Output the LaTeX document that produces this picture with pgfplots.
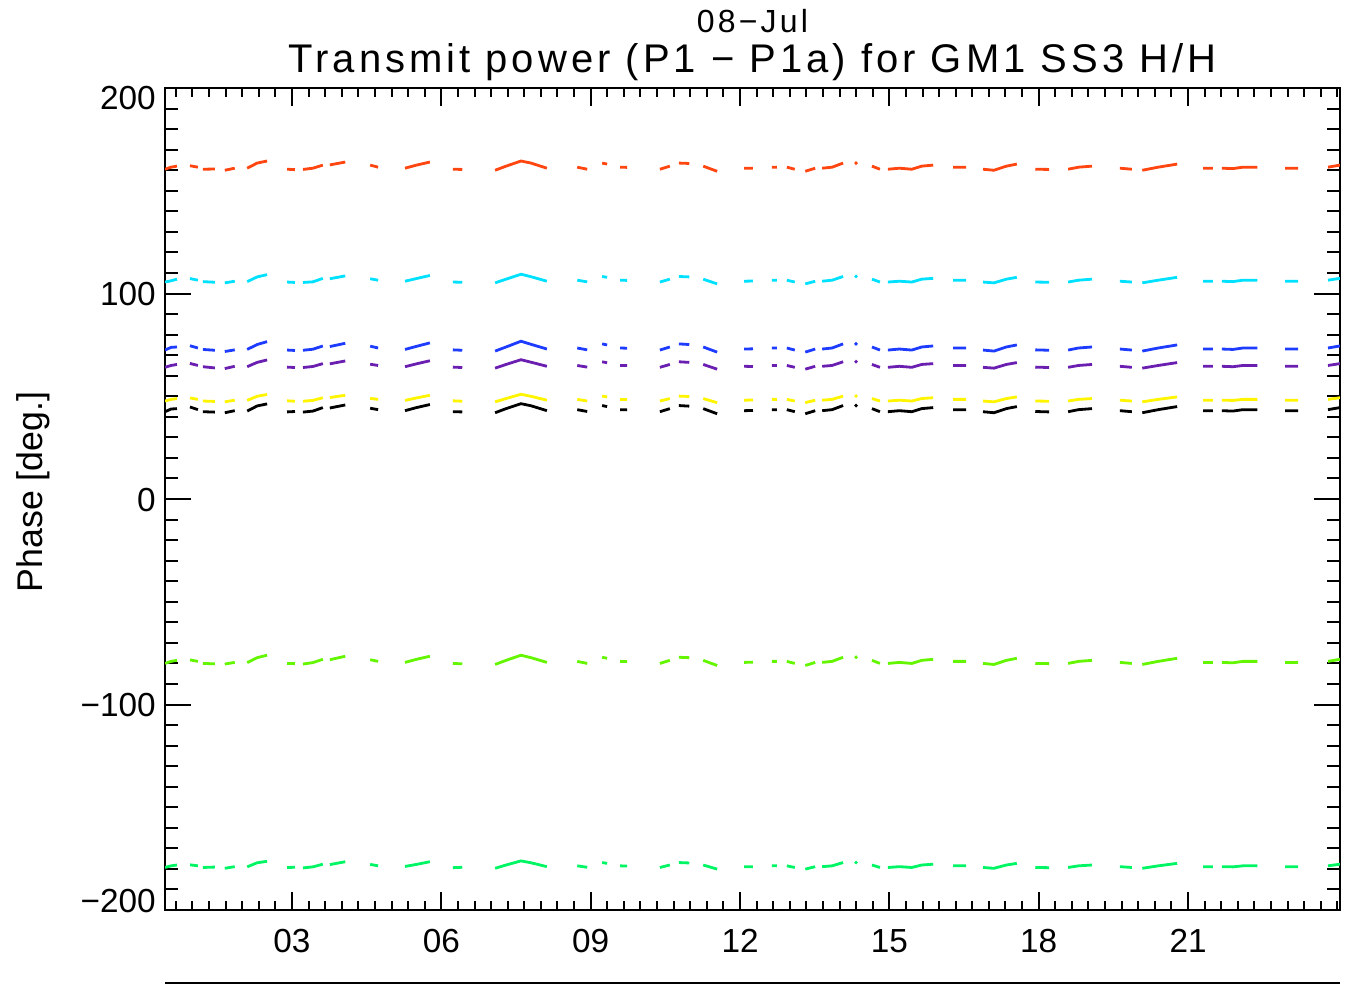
\documentclass[border=0pt]{standalone}
\usepackage{fontspec}
\setmainfont{Liberation Sans}
\newfontfamily\titlefont{Liberation Sans}[LetterSpace=10]
\usepackage{pgfplots}
\usepackage{pgfplotstable}
\pgfplotsset{compat=1.18}

\definecolor{cOr}{RGB}{255,69,16}
\definecolor{cCy}{RGB}{0,225,255}
\definecolor{cBl}{RGB}{30,60,255}
\definecolor{cPu}{RGB}{106,31,176}
\definecolor{cYe}{RGB}{255,245,0}
\definecolor{cG1}{RGB}{100,245,0}
\definecolor{cG2}{RGB}{0,245,100}

% hour, then one column per channel
\pgfplotstableread{
t o c b p y k g s
0.45 160.5 105.6 72.5 64.1 47.7 42.5 -80 -179.3
0.57 161.5 106.2 73.8 65 48.5 43.8 -79 -178.5
0.69 162 107 74 65.5 48.9 44 -78.5 -178.1
0.80 nan nan nan nan nan nan nan nan
0.95 162.2 107.3 74.6 66 49.2 44.8 -78.3 -178
1.11 161.5 106.5 73.5 65 48.5 43.5 -79 -178.5
1.15 nan nan nan nan nan nan nan nan
1.21 160.5 105.8 72.8 64.4 47.7 42.5 -80 -179.3
1.45 160.6 105.5 72.4 63.8 47.5 42.3 -80.2 -179.1
1.55 nan nan nan nan nan nan nan nan
1.65 160 105.2 71.8 63.5 47.3 42 -80.3 -179.7
1.85 161 106 72.6 64.6 48.1 43 -79.5 -178.9
1.95 nan nan nan nan nan nan nan nan
2.10 161 105.8 72.8 64.4 48 42.8 -79.6 -179
2.30 163.5 108.1 75.2 66.5 50 45.3 -77.2 -177
2.50 164.5 109.2 76.6 67.7 50.9 46.3 -76 -176.3
2.70 nan nan nan nan nan nan nan nan
2.90 160.5 105.6 72.5 64.2 47.8 42.4 -80 -179.3
3.06 160.3 105.4 72.3 64 47.6 42.6 -80.1 -179.2
3.15 nan nan nan nan nan nan nan nan
3.22 160.4 105.4 72.4 64 47.6 42.3 -80.3 -179.5
3.42 161 105.7 72.9 64.5 48 42.8 -79.6 -179
3.62 162.5 107.4 74.5 65.9 49.3 44.5 -78 -177.7
3.70 nan nan nan nan nan nan nan nan
3.76 162.6 107.2 74.2 65.8 49.4 44.3 -78.2 -177.9
4.07 164 108.6 75.8 67.2 50.5 45.8 -76.5 -176.5
4.30 nan nan nan nan nan nan nan nan
4.57 162.5 107.2 74.4 65.6 49 44.2 -78.2 -177.8
4.73 161.5 106.5 73.5 65 48.5 43.5 -79 -178.5
5.00 nan nan nan nan nan nan nan nan
5.27 161 106 72.8 64.4 48 43 -79.5 -178.8
5.50 162.5 107.3 74.3 65.8 49.2 44.5 -78 -177.8
5.77 164 108.8 76 67.3 50.5 46 -76.5 -176.5
6.00 nan nan nan nan nan nan nan nan
6.23 160.5 105.6 72.6 64.2 47.8 42.5 -80 -179.4
6.42 160.4 105.5 72.4 64 47.6 42.4 -80.2 -179.2
6.80 nan nan nan nan nan nan nan nan
7.08 160 105.2 72 63.7 47.3 42 -80.5 -179.7
7.30 162 107 74 65.5 48.9 44 -78.5 -178.1
7.60 164.5 109.4 76.8 67.8 51 46.4 -76 -176.1
7.80 163.5 108.2 75.3 66.6 50 45.4 -77.2 -177
8.12 161 106 73 64.6 48.1 43 -79.5 -178.9
8.40 nan nan nan nan nan nan nan nan
8.73 161.5 106.5 73.5 65 48.5 43.5 -79 -178.5
8.93 160.5 105.7 72.6 64.2 47.7 42.6 -80 -179.2
9.10 nan nan nan nan nan nan nan nan
9.23 163.5 108.3 75.5 66.8 50.1 45.5 -77 -176.9
9.33 163 107.9 75 66.3 49.7 45 -77.5 -177.3
9.45 nan nan nan nan nan nan nan nan
9.59 161.5 106.5 73.5 65 48.5 43.5 -79 -178.5
9.73 161.4 106.4 73.4 65 48.4 43.4 -79.1 -178.6
10.00 nan nan nan nan nan nan nan nan
10.39 160.5 105.6 72.5 64.1 47.7 42.5 -80 -179.3
10.59 162 107 74 65.5 48.9 44 -78.5 -178.1
10.68 nan nan nan nan nan nan nan nan
10.77 163.5 108.3 75.5 66.8 50.1 45.5 -77 -176.9
10.98 163.3 108.1 75.2 66.5 49.9 45.2 -77.2 -177.1
11.10 nan nan nan nan nan nan nan nan
11.26 162 107 74 65.5 48.9 44 -78.5 -178.1
11.54 159.5 104.7 71.5 63.2 46.9 41.5 -81 -180.1
11.80 nan nan nan nan nan nan nan nan
12.08 161 106 73 64.6 48.1 43 -79.5 -178.9
12.26 161 106.1 73.1 64.5 48.2 43.1 -79.4 -178.9
12.45 nan nan nan nan nan nan nan nan
12.64 161.5 106.5 73.5 65 48.5 43.5 -79 -178.5
12.74 161.5 106.5 73.5 65 48.5 43.5 -79 -178.5
12.85 nan nan nan nan nan nan nan nan
12.94 161.5 106.5 73.5 65 48.5 43.5 -79 -178.5
13.10 160.5 105.6 72.5 64.1 47.7 42.5 -80 -179.3
13.20 nan nan nan nan nan nan nan nan
13.31 159.5 104.7 71.5 63.2 46.9 41.5 -81 -180.1
13.51 161 106 73 64.6 48.1 43 -79.5 -178.9
13.58 nan nan nan nan nan nan nan nan
13.65 161 106 73 64.6 48.1 43 -79.5 -178.9
13.85 161.5 106.5 73.5 65 48.5 43.5 -79 -178.5
14.07 163.5 108.3 75.5 66.8 50.1 45.5 -77 -176.9
14.20 nan nan nan nan nan nan nan nan
14.31 164 108.8 76 67.3 50.5 46 -76.5 -176.5
14.35 163 107.9 75 66.4 49.7 45 -77.5 -177.3
14.50 nan nan nan nan nan nan nan nan
14.65 162 107 74 65.5 48.9 44 -78.5 -178.1
14.81 160.5 105.6 72.5 64.1 47.7 42.5 -80 -179.3
14.90 nan nan nan nan nan nan nan nan
14.97 160.5 105.6 72.5 64.1 47.7 42.5 -80 -179.3
15.20 161 106 73 64.6 48.1 43 -79.5 -178.9
15.45 160.5 105.6 72.5 64.1 47.7 42.5 -80 -179.3
15.65 162 107 74 65.5 48.9 44 -78.5 -178.1
15.88 162.5 107.4 74.5 65.9 49.3 44.5 -78 -177.7
16.10 nan nan nan nan nan nan nan nan
16.28 161.5 106.5 73.5 65 48.5 43.5 -79 -178.5
16.54 161.5 106.5 73.5 65 48.5 43.5 -79 -178.5
16.70 nan nan nan nan nan nan nan nan
16.88 160.5 105.6 72.5 64.1 47.7 42.5 -80 -179.3
17.10 160 105.2 72 63.7 47.3 42 -80.5 -179.7
17.35 162 107 74 65.5 48.9 44 -78.5 -178.1
17.56 163 107.9 75 66.4 49.7 45 -77.5 -177.3
17.75 nan nan nan nan nan nan nan nan
17.93 160.5 105.6 72.6 64.2 47.7 42.6 -80 -179.3
18.21 160.4 105.5 72.4 64 47.6 42.4 -80.1 -179.4
18.40 nan nan nan nan nan nan nan nan
18.59 160.5 105.6 72.5 64.1 47.7 42.5 -80 -179.3
18.80 161.5 106.5 73.5 65 48.5 43.5 -79 -178.5
19.07 162 107 74 65.5 48.9 44 -78.5 -178.1
19.35 nan nan nan nan nan nan nan nan
19.63 161 106 73 64.6 48.1 43 -79.5 -178.9
19.87 160.5 105.6 72.5 64.1 47.7 42.5 -80 -179.3
19.97 nan nan nan nan nan nan nan nan
20.08 160 105.2 72 63.7 47.3 42 -80.5 -179.7
20.40 161.5 106.5 73.5 65 48.5 43.5 -79 -178.5
20.78 163 107.9 75 66.4 49.7 45 -77.5 -177.3
21.00 nan nan nan nan nan nan nan nan
21.30 161 106 73 64.6 48.1 43 -79.5 -178.9
21.50 161 106 73 64.6 48.1 43 -79.5 -178.9
21.60 nan nan nan nan nan nan nan nan
21.68 161 106 73 64.6 48.1 43 -79.5 -178.9
21.90 160.8 105.8 72.8 64.4 48 42.8 -79.7 -179
22.10 161.5 106.5 73.5 65 48.5 43.5 -79 -178.5
22.39 161.5 106.5 73.5 65 48.5 43.5 -79 -178.5
22.70 nan nan nan nan nan nan nan nan
22.95 161 106 73 64.6 48.1 43 -79.5 -178.9
23.21 161 106 73 64.6 48.1 43 -79.5 -178.9
23.50 nan nan nan nan nan nan nan nan
23.81 161.5 106.5 73.5 65 48.5 43.5 -79 -178.5
24.05 162.5 107.4 74.5 65.9 49.3 44.5 -78 -177.7
}\phasedata

\begin{document}
\begin{tikzpicture}
\path (-61.9pt,-29.6pt) rectangle (444.75pt,341.25pt);
\begin{axis}[
    at={(0,0)}, anchor=south west,
    scale only axis,
    width=440.6pt, height=308.25pt,
    xmin=0.45, xmax=24.05,
    ymin=-200, ymax=200,
    xtick={3,6,...,21},
    xticklabels={03,06,09,12,15,18,21},
    minor xtick={0.6667,1.0,...,24.0},
    ytick={-200,-100,0,100,200},
    yticklabels={
        \raisebox{-0.8pt}[0pt][0pt]{−200},
        \raisebox{-4.5pt}[0pt][0pt]{−100},
        \raisebox{-4.5pt}[0pt][0pt]{0},
        \raisebox{-4.5pt}[0pt][0pt]{100},
        \raisebox{-7.9pt}[0pt][0pt]{200}},
    minor y tick num=9,
    tick align=inside,
    major tick length=9.75pt,
    minor tick length=4.9pt,
    x tick style={/pgfplots/major tick length=6.75pt,/pgfplots/minor tick length=3.4pt},
    tick style={black, line width=0.75pt},
    axis line style={line width=0.8pt},
    ticklabel style={font=\fontsize{12.5}{14}\selectfont},
    xticklabel style={anchor=base, yshift=-16.1pt},
    unbounded coords=jump,
    every axis plot/.append style={line width=1.05pt, mark=none},
    clip=true,
]
\addplot[cOr] table[x=t, y=o] {\phasedata};
\addplot[cCy] table[x=t, y=c] {\phasedata};
\addplot[cBl] table[x=t, y=b] {\phasedata};
\addplot[cPu] table[x=t, y=p] {\phasedata};
\addplot[cYe] table[x=t, y=y] {\phasedata};
\addplot[black] table[x=t, y=k] {\phasedata};
\addplot[cG1] table[x=t, y=g] {\phasedata};
\addplot[cG2] table[x=t, y=s] {\phasedata};
\end{axis}
\node[rotate=90, font=\fontsize{13.4}{15}\selectfont] at ([xshift=-49.5pt, yshift=2.6pt]current axis.west) {Phase [deg.]};
\node[anchor=base, font=\titlefont\fontsize{15}{17}\selectfont] at ([yshift=6pt]current axis.north) {Transmit power (P1 − P1a) for GM1 SS3 H/H};
\node[anchor=base, font=\titlefont\fontsize{12}{14}\selectfont] at ([yshift=21pt]current axis.north) {08−Jul};
\draw[line width=0.8pt] ([yshift=-27.4pt]current axis.south west) -- ([yshift=-27.4pt]current axis.south east);
\end{tikzpicture}
\end{document}
